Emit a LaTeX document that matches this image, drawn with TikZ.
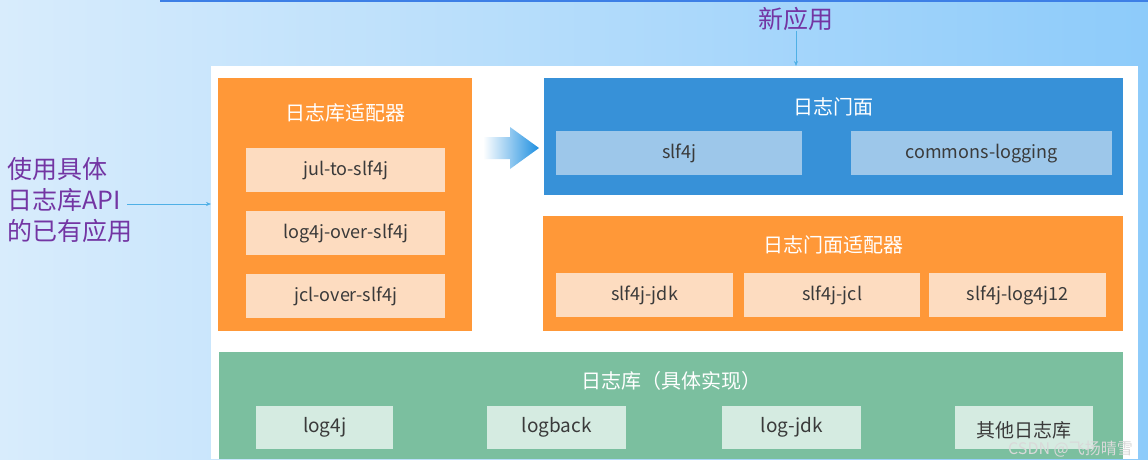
\documentclass[tikz,border=0pt]{standalone}
\usepackage{fontspec}
\setmainfont{Noto Sans CJK SC}
\usetikzlibrary{arrows.meta}
\definecolor{bgL}{HTML}{D8ECFC}
\definecolor{bgR}{HTML}{8DCBFA}
\definecolor{topline}{HTML}{3D7FE6}
\definecolor{orng}{HTML}{FF9838}
\definecolor{orngL}{HTML}{FDDCC0}
\definecolor{blu}{HTML}{3791D8}
\definecolor{bluL}{HTML}{9DC7EA}
\definecolor{grn}{HTML}{7BBF9F}
\definecolor{grnL}{HTML}{D5EBE1}
\definecolor{purp}{HTML}{7335A3}
\definecolor{txt}{HTML}{3A3A3A}
\definecolor{conn}{HTML}{4FB0E6}
\definecolor{arrowtip}{HTML}{1E8FE0}
\begin{document}
\begin{tikzpicture}[x=1pt,y=-1pt,
  outer/.style={inner sep=0pt, anchor=north west},
  inbox/.style={inner sep=0pt, anchor=north west, text=txt, font=\fontsize{18}{20}\selectfont},
  intext/.style={text=txt, font=\fontsize{18}{20}\selectfont, inner sep=0pt},
  ttl/.style={text=white, font=\fontsize{20}{22}\selectfont, inner sep=0pt},
  purptext/.style={text=purp, font=\fontsize{25}{31}\selectfont, inner sep=0pt},
  conarrow/.style={draw=conn, line width=0.6pt, -{Stealth[length=5pt,width=4pt]}}
]
\useasboundingbox (0,0) rectangle (1148,459);
\shade[left color=bgL, right color=bgR] (0,0) rectangle (1148,459);
\draw[topline, line width=3pt] (160,0) -- (1148,0);

% white panel
\node[outer, fill=white, minimum width=927, minimum height=393] (panel) at (211,66) {};

% left orange
\node[outer, fill=orng, minimum width=254, minimum height=253] (adapt) at (218,78) {};
\node[ttl] (adaptT) at (345,113) {日志库适配器};
\node[inbox, fill=orngL, minimum width=199, minimum height=44] (a1) at (246,148) {};
\node[intext] at (a1.center) {jul-to-slf4j};
\node[inbox, fill=orngL, minimum width=199, minimum height=44] (a2) at (246,211) {};
\node[intext] at (a2.center) {log4j-over-slf4j};
\node[inbox, fill=orngL, minimum width=199, minimum height=44] (a3) at (246,274) {};
\node[intext] at (a3.center) {jcl-over-slf4j};

% blue facade
\node[outer, fill=blu, minimum width=579, minimum height=117] (facade) at (544,78) {};
\node[ttl] (facadeT) at (833,107) {日志门面};
\node[inbox, fill=bluL, minimum width=246, minimum height=44] (f1) at (556,131) {};
\node[intext] at (f1.center) {slf4j};
\node[inbox, fill=bluL, minimum width=261, minimum height=44] (f2) at (851,131) {};
\node[intext] at (f2.center) {commons-logging};

% right orange
\node[outer, fill=orng, minimum width=580, minimum height=115] (fadapt) at (543,216) {};
\node[ttl] (fadaptT) at (833,245) {日志门面适配器};
\node[inbox, fill=orngL, minimum width=177, minimum height=44] (r1) at (556,273) {};
\node[intext] at (r1.center) {slf4j-jdk};
\node[inbox, fill=orngL, minimum width=176, minimum height=44] (r2) at (744,273) {};
\node[intext] at (r2.center) {slf4j-jcl};
\node[inbox, fill=orngL, minimum width=177, minimum height=44] (r3) at (929,273) {};
\node[intext] at (r3.center) {slf4j-log4j12};

% green
\node[outer, fill=grn, minimum width=904, minimum height=107] (impl) at (219,352) {};
\node[ttl] (implT) at (671,381) {日志库（具体实现）};
\node[inbox, fill=grnL, minimum width=137, minimum height=43] (g1) at (256,406) {};
\node[intext, font=\fontsize{19}{21}\selectfont] at (g1.center) {log4j};
\node[inbox, fill=grnL, minimum width=139, minimum height=43] (g2) at (487,406) {};
\node[intext, font=\fontsize{19}{21}\selectfont] at (g2.center) {logback};
\node[inbox, fill=grnL, minimum width=139, minimum height=43] (g3) at (722,406) {};
\node[intext, font=\fontsize{19}{21}\selectfont] at (g3.center) {log-jdk};
\node[inbox, fill=grnL, minimum width=138, minimum height=43] (g4) at (955,406) {};
\node[intext, font=\fontsize{19}{21}\selectfont, yshift=-3pt] at (g4.center) {其他日志库};

% gradient arrow
\shade[left color=white, right color=arrowtip]
  (483,137) -- (510,137) -- (510,127) -- (539,148) -- (510,169) -- (510,159) -- (483,159) -- cycle;

% labels
\node[purptext, align=left, anchor=north west] (oldapp) at (7,157) {使用具体\\日志库API\\的已有应用};
\coordinate (oldend) at (127,204);
\coordinate (panelL) at (211,204);
\draw[conarrow] (oldend) -- (panelL);

\node[purptext] (newapp) at (796,19) {新应用};
\coordinate (panelT) at (796,66);
\draw[conarrow] (newapp.south) -- (panelT);

% watermark
\node[text=white!70!gray, font=\fontsize{16}{18}\selectfont, inner sep=0, anchor=east] (wm) at (1133,449) {CSDN @飞扬晴雪};
\end{tikzpicture}
\end{document}
